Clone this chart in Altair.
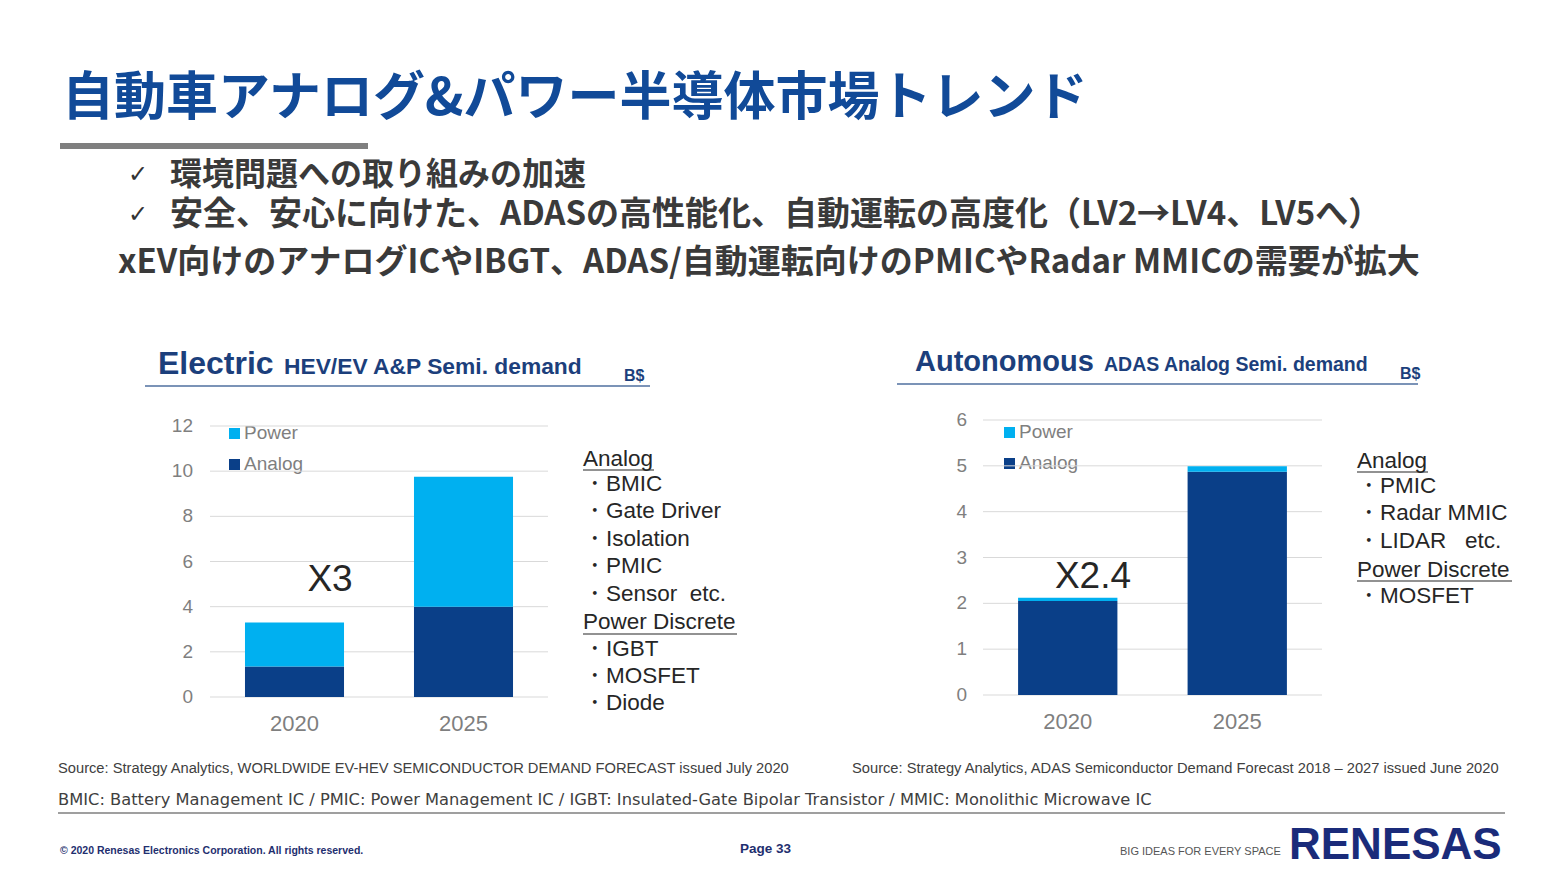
import altair as alt
import pandas as pd

# ---------------- data ----------------
years = ["2020", "2025"]
series = ["Analog", "Power"]
ev_analog = [1.35, 4.0]
ev_power = [1.95, 5.75]
adas_analog = [2.05, 4.87]
adas_power = [0.07, 0.12]
ev_ticks = [0, 2, 4, 6, 8, 10, 12]
adas_ticks = [0, 1, 2, 3, 4, 5, 6]

title_text = "自動車アナログ&パワー半導体市場トレンド"
bullets = ["環境問題への取り組みの加速",
           "安全、安心に向けた、ADASの高性能化、自動運転の高度化（LV2→LV4、LV5へ）"]
check = "✓"
summary = "xEV向けのアナログICやIBGT、ADAS/自動運転向けのPMICやRadar MMICの需要が拡大"
ev_title = ["Electric", "HEV/EV A&P Semi. demand", "B$"]
adas_title = ["Autonomous", "ADAS Analog Semi. demand", "B$"]
ev_growth = "X3"
adas_growth = "X2.4"
ev_list = ["Analog", "・BMIC", "・Gate Driver", "・Isolation", "・PMIC", "・Sensor\u00a0\u00a0etc.",
           "Power Discrete", "・IGBT", "・MOSFET", "・Diode"]
adas_list = ["Analog", "・PMIC", "・Radar MMIC", "・LIDAR\u00a0\u00a0\u00a0etc.", "Power Discrete", "・MOSFET"]
src_ev = "Source: Strategy Analytics, WORLDWIDE EV-HEV SEMICONDUCTOR DEMAND FORECAST issued July 2020"
src_adas = "Source: Strategy Analytics, ADAS Semiconductor Demand Forecast 2018 – 2027 issued June 2020"
footnote = ("BMIC: Battery Management IC / PMIC: Power Management IC / IGBT: Insulated-Gate Bipolar "
            "Transistor / MMIC: Monolithic Microwave IC")
copyright_text = "© 2020 Renesas Electronics Corporation. All rights reserved."
page_text = "Page 33"
tagline = "BIG IDEAS FOR EVERY SPACE"
logo_text = "RENESAS"

# ---------------- style ----------------
O = 8
JP = "Noto Sans CJK JP"
LAT = "Liberation Sans"
BLUE = "#114a98"
NAVY = "#1c3f7c"
DARK = "#0a3f88"
LIGHT = "#00b0f0"
TXT = "#333333"
GRAY = "#7f7f7f"


def txt(s, x, y, size, color, font=LAT, weight="normal", align="left", baseline="middle"):
    return alt.Chart(pd.DataFrame({"t": [s]})).mark_text(
        align=align, baseline=baseline, fontSize=size, font=font,
        fontWeight=weight, color=color
    ).encode(x=alt.value(x - O), y=alt.value(y - O), text="t:N")


def hrule(x1, x2, y, color, w=1.0):
    return alt.Chart(pd.DataFrame({"a": [0]})).mark_rule(color=color, strokeWidth=w).encode(
        x=alt.value(x1 - O), x2=alt.value(x2 - O), y=alt.value(y - O))


def box(x1, x2, y1, y2, color):
    return alt.Chart(pd.DataFrame({"a": [0]})).mark_rect(color=color).encode(
        x=alt.value(x1 - O), x2=alt.value(x2 - O), y=alt.value(y1 - O), y2=alt.value(y2 - O))


def panel(analog, power, ticks, xr, yr, gx1, gx2, lab_x, xlab_y):
    rows = []
    for i, yv in enumerate(years):
        rows.append({"year": yv, "series": "Analog", "value": analog[i], "ord": 0})
        rows.append({"year": yv, "series": "Power", "value": power[i], "ord": 1})
    df = pd.DataFrame(rows)
    tdf = pd.DataFrame({"v": ticks})
    ydf = pd.DataFrame({"year": years})
    xs = alt.Scale(domain=years, range=[xr[0] - O, xr[1] - O], paddingInner=0.414, paddingOuter=0.207)
    ys = alt.Scale(domain=[0, max(ticks)], range=[yr[0] - O, yr[1] - O], nice=False, zero=True)
    grid = alt.Chart(tdf).mark_rule(color="#d9d9d9", strokeWidth=1).encode(
        y=alt.Y("v:Q", scale=ys, axis=None), x=alt.value(gx1 - O), x2=alt.value(gx2 - O))
    tl = alt.Chart(tdf).mark_text(align="right", baseline="middle", fontSize=19, font=LAT,
                                  color=GRAY).encode(
        y=alt.Y("v:Q", scale=ys, axis=None), x=alt.value(lab_x - O), text="v:Q")
    bars = alt.Chart(df).mark_bar().encode(
        x=alt.X("year:N", scale=xs, axis=None),
        y=alt.Y("value:Q", scale=ys, axis=None, stack="zero"),
        color=alt.Color("series:N", scale=alt.Scale(domain=series, range=[DARK, LIGHT]), legend=None),
        order=alt.Order("ord:Q"))
    xl = alt.Chart(ydf).mark_text(baseline="middle", fontSize=22, font=LAT, color=GRAY).encode(
        x=alt.X("year:N", scale=xs, axis=None), y=alt.value(xlab_y - O), text="year:N")
    return alt.layer(grid, tl, bars, xl)


layers = []
# title
layers.append(txt(title_text, 62, 99, 52, BLUE, font=JP, weight="bold"))
layers.append(box(60, 368, 143, 149, GRAY))
# bullets
layers.append(txt(check, 128, 175, 24, TXT, font="DejaVu Sans"))
layers.append(txt(bullets[0], 170, 175, 32, "#3a3a3a", font=JP, weight="bold"))
layers.append(txt(check, 128, 215, 24, TXT, font="DejaVu Sans"))
layers.append(txt(bullets[1], 170, 215, 33, "#3a3a3a", font=JP, weight="bold"))
layers.append(txt(summary, 118, 263, 33, "#3a3a3a", font=JP, weight="bold"))

# chart titles
layers.append(txt(ev_title[0], 158, 374, 32, NAVY, weight="bold", baseline="alphabetic"))
layers.append(txt(ev_title[1], 284, 374, 22.8, NAVY, weight="bold", baseline="alphabetic"))
layers.append(txt(ev_title[2], 624, 381, 16, NAVY, weight="bold", baseline="alphabetic"))
layers.append(hrule(145, 650, 386, "#4f6f9f", 1.5))
layers.append(txt(adas_title[0], 915, 371, 29, NAVY, weight="bold", baseline="alphabetic"))
layers.append(txt(adas_title[1], 1104, 371, 19.5, NAVY, weight="bold", baseline="alphabetic"))
layers.append(txt(adas_title[2], 1400, 379, 16, NAVY, weight="bold", baseline="alphabetic"))
layers.append(hrule(897, 1418, 384, "#4f6f9f", 1.5))

# legends
layers.append(box(229, 240, 428, 439, LIGHT))
layers.append(txt("Power", 244, 433, 19, GRAY))
layers.append(box(229, 240, 459, 470, DARK))
layers.append(txt("Analog", 244, 464, 19, GRAY))
layers.append(box(1004, 1015, 427, 438, LIGHT))
layers.append(txt("Power", 1019, 432, 19, GRAY))
layers.append(box(1004, 1015, 458, 469, DARK))
layers.append(txt("Analog", 1019, 463, 19, GRAY))

# growth labels
layers.append(txt(ev_growth, 330, 580, 37, "#262626", align="center"))
layers.append(txt(adas_growth, 1093, 577, 37, "#262626", align="center"))

# lists
ev_y = [459, 484, 511, 539, 566, 594, 622, 649, 676, 703]
for s, yy in zip(ev_list, ev_y):
    layers.append(txt(s, 583, yy, 22.5, "#262626"))
layers.append(hrule(583, 654, 470, "#262626", 1.2))
layers.append(hrule(583, 737, 634, "#262626", 1.2))
adas_y = [461, 486, 513, 541, 570, 596]
for s, yy in zip(adas_list, adas_y):
    layers.append(txt(s, 1357, yy, 22.5, "#262626"))
layers.append(hrule(1357, 1428, 472, "#262626", 1.2))
layers.append(hrule(1357, 1512, 581, "#262626", 1.2))

# sources & footnote
layers.append(txt(src_ev, 58, 773, 14.7, "#404040", baseline="alphabetic"))
layers.append(txt(src_adas, 852, 773, 14.7, "#404040", baseline="alphabetic"))
layers.append(txt(footnote, 58, 805, 16.3, "#404040", font="DejaVu Sans", baseline="alphabetic"))
layers.append(hrule(58, 1505, 813, "#404040", 1.2))

# footer
layers.append(txt(copyright_text, 60, 854, 10.5, "#1f2f6f", weight="bold", baseline="alphabetic"))
layers.append(txt(page_text, 740, 853, 13.5, "#1f2f6f", weight="bold", baseline="alphabetic"))
layers.append(txt(tagline, 1120, 855, 11, "#555555", baseline="alphabetic"))
layers.append(txt(logo_text, 1289, 859, 44, "#1a2b7a", weight="bold", baseline="alphabetic"))

left = panel(ev_analog, ev_power, ev_ticks, (210, 548), (697, 426), 210, 548, 193, 724)
right = panel(adas_analog, adas_power, adas_ticks, (983, 1322), (695, 420), 983, 1322, 967, 722)

chart = alt.layer(*layers, left, right).resolve_scale(
    x="independent", y="independent", color="independent"
).properties(
    width=1549, height=864, autosize=alt.AutoSizeParams(type="none"), padding=0, background="white"
).configure_view(stroke=None)

chart.save("out.html", embed_options={"renderer": "svg", "actions": False})
